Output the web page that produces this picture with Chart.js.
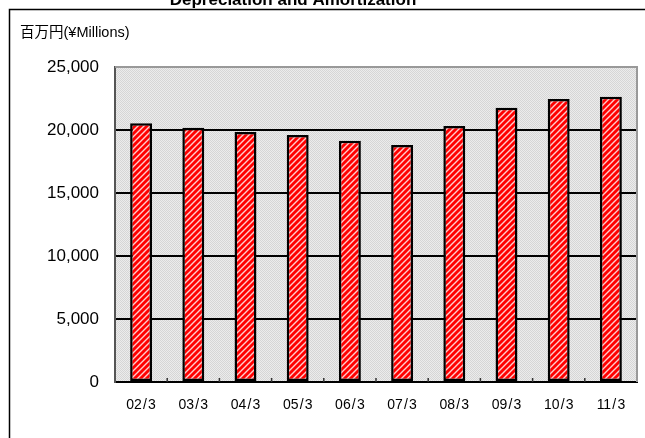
<!DOCTYPE html>
<html>
<head>
<meta charset="utf-8">
<script src="https://cdn.jsdelivr.net/npm/chart.js@4.4.1/dist/chart.umd.min.js"></script>
<style>
  html, body { margin: 0; padding: 0; background: #fff; }
  #wrap { width: 645px; height: 438px; }
</style>
</head>
<body>
<div id="wrap"><canvas id="daChart" width="645" height="438"></canvas></div>
<script>
const categories = ['02/3', '03/3', '04/3', '05/3', '06/3', '07/3', '08/3', '09/3', '10/3', '11/3'];
const depreciation = [20530, 20180, 19840, 19600, 19150, 18810, 20320, 21770, 22460, 22640];
const yTicks = [0, 5000, 10000, 15000, 20000, 25000];

// fine gray dot texture behind the plot
function dotPattern(ctx) {
    const c = document.createElement('canvas');
    c.width = 2; c.height = 2;
    const p = c.getContext('2d');
    p.fillStyle = '#ececec';
    p.fillRect(0, 0, 2, 2);
    p.fillStyle = '#d6d6d6';
    p.fillRect(0, 0, 1, 1);
    p.fillRect(1, 1, 1, 1);
    return ctx.createPattern(c, 'repeat');
}

// red fill with light diagonal hatching
function hatchPattern(ctx) {
    const c = document.createElement('canvas');
    c.width = 6; c.height = 6;
    const p = c.getContext('2d');
    p.fillStyle = '#ff0000';
    p.fillRect(0, 0, 6, 6);
    p.strokeStyle = 'rgba(255,205,205,1)';
    p.lineWidth = 1.4;
    p.beginPath();
    p.moveTo(-1, 7); p.lineTo(7, -1);
    p.moveTo(-4, 4); p.lineTo(4, -4);
    p.moveTo(2, 10); p.lineTo(10, 2);
    p.stroke();
    return ctx.createPattern(c, 'repeat');
}

const ctx = document.getElementById('daChart').getContext('2d');

const decorations = {
    id: 'decorations',
    beforeDraw(chart) {
        const { ctx, chartArea: a } = chart;
        ctx.save();
        ctx.fillStyle = dotPattern(ctx);
        ctx.fillRect(a.left, a.top, a.right - a.left, a.bottom - a.top);
        ctx.restore();
    },
    afterDraw(chart) {
        const { ctx, chartArea: a } = chart;
        const x = chart.scales.x;
        ctx.save();
        // gray top and right edges of the plot
        ctx.strokeStyle = '#999';
        ctx.lineWidth = 2;
        ctx.beginPath();
        ctx.moveTo(a.left, a.top);
        ctx.lineTo(a.right, a.top);
        ctx.lineTo(a.right, a.bottom);
        ctx.stroke();
        // small inward ticks between categories
        ctx.strokeStyle = '#333';
        ctx.lineWidth = 1.5;
        ctx.beginPath();
        for (let i = 1; i < categories.length; i++) {
            const px = (x.getPixelForValue(i - 1) + x.getPixelForValue(i)) / 2;
            ctx.moveTo(px, a.bottom);
            ctx.lineTo(px, a.bottom - 4);
        }
        ctx.stroke();
        // outer frame
        ctx.strokeStyle = '#000';
        ctx.lineWidth = 1.5;
        ctx.beginPath();
        ctx.moveTo(9.5, chart.height);
        ctx.lineTo(9.5, 9.5);
        ctx.lineTo(chart.width, 9.5);
        ctx.stroke();
        // title and unit caption
        ctx.fillStyle = '#000';
        ctx.textAlign = 'center';
        ctx.textBaseline = 'alphabetic';
        ctx.font = 'bold 17px "Liberation Sans", Arial, sans-serif';
        ctx.fillText('Depreciation and Amortization', 293, 5);
        ctx.textAlign = 'left';
        ctx.textBaseline = 'middle';
        ctx.font = '14.5px "Liberation Sans", "Noto Sans CJK JP", sans-serif';
        ctx.fillText('百万円(¥Millions)', 20, 33);
        ctx.restore();
    }
};

new Chart(ctx, {
    type: 'bar',
    data: {
        labels: categories,
        datasets: [{
            data: depreciation,
            backgroundColor: hatchPattern(ctx),
            borderColor: '#000',
            borderWidth: 2.5,
            borderSkipped: false,
            categoryPercentage: 1,
            barPercentage: 0.42
        }]
    },
    options: {
        responsive: false,
        animation: false,
        layout: { padding: { top: 67, right: 8, left: 0, bottom: 0 } },
        plugins: {
            legend: { display: false },
            tooltip: { enabled: false }
        },
        scales: {
            x: {
                grid: { display: false, drawTicks: false },
                border: { color: '#000', width: 2 },
                ticks: {
                    color: '#000',
                    padding: 15,
                    font: { family: '"Liberation Sans", Arial, sans-serif', size: 14 },
                    callback: (v, i) => categories[i].replace('/', '\u200A/\u200A')
                },
                afterFit: s => { s.height = 56; }
            },
            y: {
                min: 0,
                max: 25000,
                afterBuildTicks: s => { s.ticks = yTicks.map(v => ({ value: v })); },
                grid: {
                    drawTicks: false,
                    lineWidth: 2,
                    color: c => c.tick && c.tick.value === 25000 ? '#999' : '#000'
                },
                border: { color: '#555', width: 2 },
                ticks: {
                    color: '#000',
                    padding: 16,
                    font: { family: '"Liberation Sans", Arial, sans-serif', size: 17 },
                    callback: v => v.toLocaleString('en-US')
                },
                afterFit: s => { s.width = 115; }
            }
        }
    },
    plugins: [decorations]
});
</script>
</body>
</html>
